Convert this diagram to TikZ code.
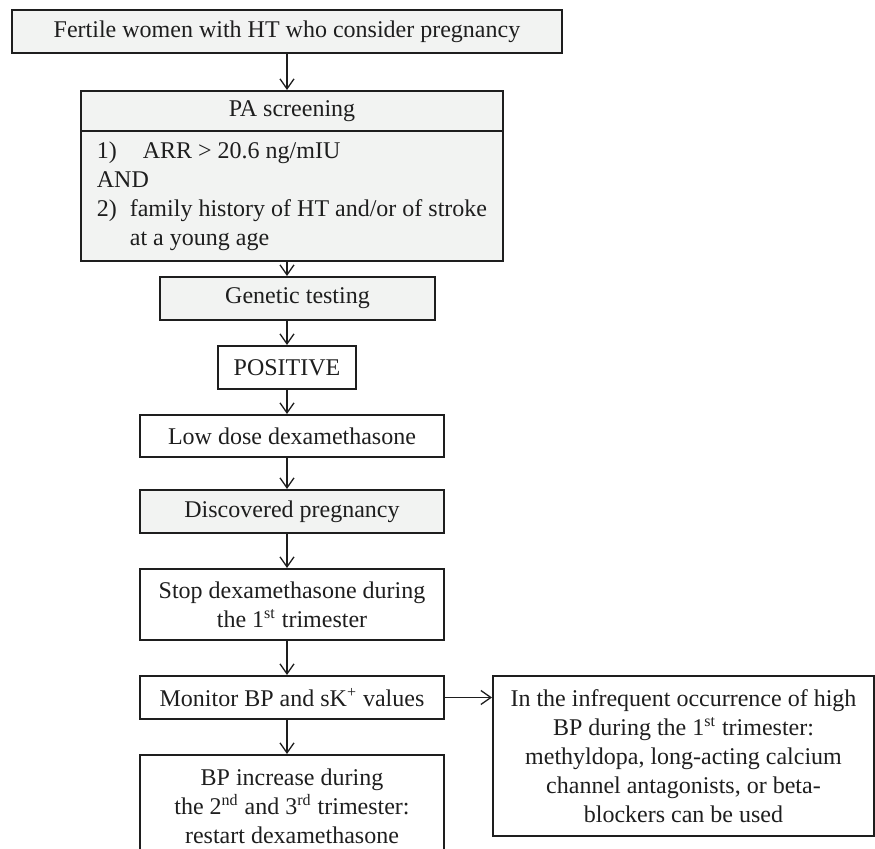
\documentclass[tikz,border=0pt]{standalone}
\usepackage{fontspec}
\setmainfont{Liberation Serif}
\usetikzlibrary{arrows.meta}
\definecolor{boxgrey}{HTML}{F2F3F2}
\definecolor{inkline}{HTML}{1E1E1E}

\begin{document}
\begin{tikzpicture}[x=0.5pt,y=-0.5pt]
        \tikzstyle{every node}=[font=\fontsize{12}{14.5}\selectfont, text=inkline]
        \tikzstyle{box}=[draw=inkline, line width=1pt, rectangle, inner sep=0pt, align=center]
        \tikzstyle{greybox}=[box, fill=boxgrey]
        \tikzstyle{arr}=[draw=inkline, line width=0.65pt, -{Straight Barb[length=5pt,width=7pt]}]
        \useasboundingbox (0,0) rectangle (875,849);
        \clip (0,0) rectangle (875,849);
        \coordinate (axis) at (287,0);
        \node[greybox, minimum width=275pt, minimum height=21.5pt] (fertile) at (287,31.5) {Fertile women with HT who consider pregnancy};
        \node[greybox, minimum width=211pt, minimum height=20pt] (pahead) at (292,111) {PA screening};
        \node[greybox, minimum width=211pt, minimum height=65pt, align=left] (pabody) at (292,196) {\makebox[23pt][l]{1)}ARR > 20.6 ng/mIU\\
                AND\\
                \makebox[16.5pt][l]{2)}family history of HT and/or of stroke\\
                \hspace*{16.5pt}at a young age};
        \node[greybox, minimum width=137.5pt, minimum height=21.5pt] (genetic) at (297.5,298.5) {Genetic testing};
        \node[box, minimum width=69pt, minimum height=21.5pt] (positive) at (287,367.5) {POSITIVE};
        \node[box, minimum width=152pt, minimum height=21pt] (lowdose) at (292,436) {Low dose dexamethasone};
        \node[greybox, minimum width=152pt, minimum height=21.5pt] (discovered) at (292,511.5) {Discovered pregnancy};
        \node[box, minimum width=152pt, minimum height=35.5pt] (stop) at (292,604.5) {Stop dexamethasone during\\the 1\textsuperscript{st} trimester};
        \node[box, minimum width=152pt, minimum height=21.5pt] (monitor) at (292,697.5) {Monitor BP and sK\textsuperscript{+} values};
        \node[box, minimum width=152pt, minimum height=51pt] (bpinc) at (292,806) {BP increase during\\the 2\textsuperscript{nd} and 3\textsuperscript{rd} trimester:\\restart dexamethasone};
        \node[box, minimum width=190.5pt, minimum height=80pt] (other) at (683.5,756) {In the infrequent occurrence of high\\
                BP during the 1\textsuperscript{st} trimester:\\
                methyldopa, long-acting calcium\\
                channel antagonists, or beta-\\
                blockers can be used};

        \draw[arr] (fertile.south -| axis) -- (pahead.north -| axis);
        \draw[arr] (pabody.south -| axis) -- (genetic.north -| axis);
        \draw[arr] (genetic.south -| axis) -- (positive.north -| axis);
        \draw[arr] (positive.south -| axis) -- (lowdose.north -| axis);
        \draw[arr] (lowdose.south -| axis) -- (discovered.north -| axis);
        \draw[arr] (discovered.south -| axis) -- (stop.north -| axis);
        \draw[arr] (stop.south -| axis) -- (monitor.north -| axis);
        \draw[arr] (monitor.south -| axis) -- (bpinc.north -| axis);
        \draw[arr] (monitor.east) -- (other.west |- monitor.east);
    \end{tikzpicture}
\end{document}
